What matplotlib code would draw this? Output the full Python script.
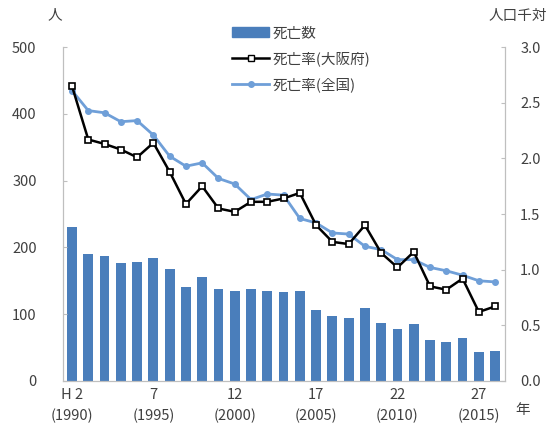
import numpy as np
import matplotlib.pyplot as plt
from matplotlib.lines import Line2D
from matplotlib.patches import Patch

plt.rcParams['font.family'] = ['Noto Sans CJK JP', 'DejaVu Sans']

# data (H2=1990 ... H28=2016)
years = list(range(1990, 2017))
deaths = [230, 190, 187, 177, 178, 184, 168, 141, 156, 138, 135, 138, 135,
          133, 135, 106, 97, 94, 109, 87, 78, 85, 61, 58, 64, 43, 45]
rate_osaka = [2.65, 2.17, 2.13, 2.08, 2.01, 2.14, 1.88, 1.59, 1.75, 1.55, 1.52,
              1.61, 1.61, 1.64, 1.69, 1.40, 1.25, 1.23, 1.40, 1.15, 1.02, 1.16,
              0.85, 0.82, 0.92, 0.62, 0.67]
rate_japan = [2.61, 2.43, 2.41, 2.33, 2.34, 2.21, 2.02, 1.93, 1.96, 1.82, 1.77,
              1.63, 1.68, 1.67, 1.46, 1.42, 1.33, 1.32, 1.21, 1.18, 1.09, 1.09,
              1.02, 0.99, 0.95, 0.90, 0.89]
xtick_idx = [0, 5, 10, 15, 20, 25]
xtick_labels = ["H 2\n(1990)", "7\n(1995)", "12\n(2000)",
                "17\n(2005)", "22\n(2010)", "27\n(2015)"]

bar_c = "#4a7ebb"
line_c = "#6f9fd8"
axis_c = "#bfbfbf"
txt_c = "#404040"
fs = 10.5

fig = plt.figure(figsize=(5.53, 4.45), dpi=100)
ax = fig.add_axes([0.114, 0.144, 0.799, 0.75])
ax2 = ax.twinx()

xs = np.arange(len(years))
ax.bar(xs, deaths, width=0.6, color=bar_c, zorder=1)
ax2.plot(xs, rate_japan, color=line_c, lw=2, marker='o', ms=4,
         mfc=line_c, mec=line_c, zorder=2)
ax2.plot(xs, rate_osaka, color="black", lw=1.8, marker='s', ms=5,
         mfc="white", mec="black", mew=1.2, zorder=3)

ax.set_xlim(-0.55, len(years) - 0.4)
ax.set_ylim(0, 500)
ax2.set_ylim(0, 3.0)
ax.set_yticks([0, 100, 200, 300, 400, 500])
ax2.set_yticks([0.0, 0.5, 1.0, 1.5, 2.0, 2.5, 3.0])
ax2.set_yticklabels(["%.1f" % v for v in ax2.get_yticks()])
ax.set_xticks(xtick_idx)
ax.set_xticklabels(xtick_labels, linespacing=1.55)

for a in (ax, ax2):
    a.spines['top'].set_visible(False)
    for s in ('left', 'right', 'bottom'):
        a.spines[s].set_color(axis_c)
ax.tick_params(axis='y', direction='in', length=3, color=axis_c,
               labelsize=fs, labelcolor=txt_c, pad=19)
ax2.tick_params(axis='y', direction='in', length=3, color=axis_c,
                labelsize=fs, labelcolor=txt_c, pad=11)
ax.tick_params(axis='x', length=0, labelsize=fs, labelcolor=txt_c, pad=5)

fig.text(0.10, 0.965, "人", fontsize=fs, color=txt_c, ha='center', va='center')
fig.text(0.99, 0.965, "人口千対", fontsize=fs, color=txt_c, ha='right', va='center')
fig.text(0.945, 0.078, "年", fontsize=fs, color=txt_c, ha='center', va='center')

handles = [Patch(color=bar_c),
           Line2D([0], [0], color="black", lw=1.8, marker='s', ms=5,
                  mfc="white", mec="black"),
           Line2D([0], [0], color=line_c, lw=2, marker='o', ms=4)]
labels = ["死亡数", "死亡率(大阪府)", "死亡率(全国)"]
fig.legend(handles, labels, loc='upper left', bbox_to_anchor=(0.395, 0.97),
           frameon=False, fontsize=fs, handlelength=2.6, handletextpad=0.2,
           labelspacing=0.75, labelcolor=txt_c)

plt.savefig("out.png", dpi=100)
